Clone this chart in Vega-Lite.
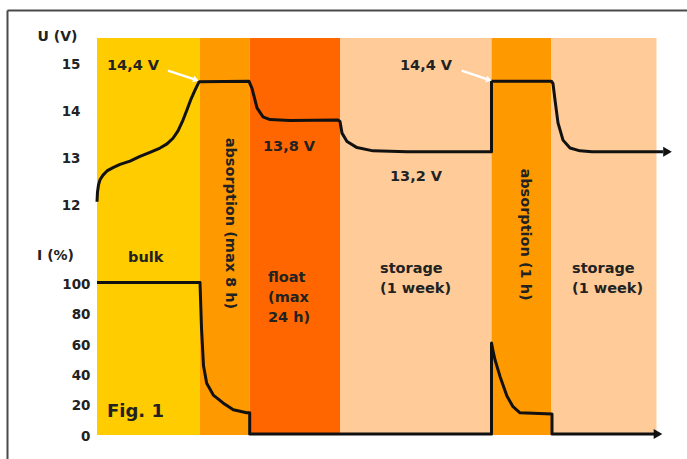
{
  "$schema": "https://vega.github.io/schema/vega-lite/v6.json",
  "width": 680,
  "height": 449,
  "autosize": "none",
  "padding": {"left": 7, "top": 10, "right": 0, "bottom": 0},
  "background": "white",
  "config": {"view": {"stroke": null}, "font": "DejaVu Sans"},
  "datasets": {
    "bands": [
      {"kind": "bulk", "t": 0, "t1": 102.5},
      {"kind": "absorption", "t": 102.5, "t1": 152.5},
      {"kind": "float", "t": 152.5, "t1": 243},
      {"kind": "storage", "t": 243, "t1": 394.5},
      {"kind": "absorption", "t": 394.5, "t1": 454},
      {"kind": "storage", "t": 454, "t1": 559.5}
    ],
    "voltage": [
      {"i": 1, "t": 0, "U": 12.07},
      {"i": 2, "t": 0.5, "U": 12.28},
      {"i": 3, "t": 1.5, "U": 12.43},
      {"i": 4, "t": 3, "U": 12.54},
      {"i": 5, "t": 6, "U": 12.64},
      {"i": 6, "t": 10, "U": 12.73},
      {"i": 7, "t": 16, "U": 12.8},
      {"i": 8, "t": 23, "U": 12.87},
      {"i": 9, "t": 33, "U": 12.94},
      {"i": 10, "t": 43, "U": 13.04},
      {"i": 11, "t": 53, "U": 13.13},
      {"i": 12, "t": 63, "U": 13.22},
      {"i": 13, "t": 70, "U": 13.31},
      {"i": 14, "t": 76, "U": 13.43},
      {"i": 15, "t": 81, "U": 13.59},
      {"i": 16, "t": 86, "U": 13.82},
      {"i": 17, "t": 90, "U": 14.04},
      {"i": 18, "t": 94, "U": 14.27},
      {"i": 19, "t": 98, "U": 14.46},
      {"i": 20, "t": 102, "U": 14.64},
      {"i": 21, "t": 152, "U": 14.65},
      {"i": 22, "t": 155, "U": 14.5},
      {"i": 23, "t": 160, "U": 14.08},
      {"i": 24, "t": 166, "U": 13.89},
      {"i": 25, "t": 173, "U": 13.83},
      {"i": 26, "t": 193, "U": 13.81},
      {"i": 27, "t": 241, "U": 13.82},
      {"i": 28, "t": 243, "U": 13.79},
      {"i": 29, "t": 245, "U": 13.54},
      {"i": 30, "t": 250, "U": 13.36},
      {"i": 31, "t": 260, "U": 13.23},
      {"i": 32, "t": 276, "U": 13.16},
      {"i": 33, "t": 310, "U": 13.14},
      {"i": 34, "t": 394.5, "U": 13.14},
      {"i": 35, "t": 394.5, "U": 14.65},
      {"i": 36, "t": 454.5, "U": 14.65},
      {"i": 37, "t": 456, "U": 14.6},
      {"i": 38, "t": 458, "U": 14.25},
      {"i": 39, "t": 461, "U": 13.76},
      {"i": 40, "t": 466, "U": 13.39},
      {"i": 41, "t": 473, "U": 13.22},
      {"i": 42, "t": 483, "U": 13.16},
      {"i": 43, "t": 495, "U": 13.14},
      {"i": 44, "t": 566, "U": 13.14}
    ],
    "vhead": [{"t": 570.5, "U": 13.14}],
    "vlabels": [
      {"label": "14,4 V", "t": 10, "U": 14.98},
      {"label": "14,4 V", "t": 303, "U": 14.98},
      {"label": "13,8  V", "t": 166, "U": 13.24},
      {"label": "13,2 V", "t": 293, "U": 12.6}
    ],
    "warrows": [
      {"t": 71, "U": 14.878, "t1": 99, "U1": 14.68},
      {"t": 364.7, "U": 14.878, "t1": 392, "U1": 14.68}
    ],
    "wheads": [
      {"t": 99, "U": 14.68},
      {"t": 392, "U": 14.68}
    ],
    "current": [
      {"i": 1, "t": 0, "I": 100},
      {"i": 2, "t": 103, "I": 100},
      {"i": 3, "t": 104.5, "I": 70},
      {"i": 4, "t": 106.5, "I": 45},
      {"i": 5, "t": 109.7, "I": 33.5},
      {"i": 6, "t": 116.3, "I": 25.7},
      {"i": 7, "t": 126, "I": 20.5},
      {"i": 8, "t": 136.3, "I": 16},
      {"i": 9, "t": 149.7, "I": 14},
      {"i": 10, "t": 152.7, "I": 14},
      {"i": 11, "t": 152.7, "I": 0},
      {"i": 12, "t": 394.5, "I": 0},
      {"i": 13, "t": 394.5, "I": 60},
      {"i": 14, "t": 396, "I": 55},
      {"i": 15, "t": 398, "I": 49},
      {"i": 16, "t": 403, "I": 38},
      {"i": 17, "t": 410, "I": 25},
      {"i": 18, "t": 416, "I": 18},
      {"i": 19, "t": 423, "I": 14},
      {"i": 20, "t": 455, "I": 13.2},
      {"i": 21, "t": 455, "I": 0},
      {"i": 22, "t": 558, "I": 0}
    ],
    "ihead": [{"t": 561, "I": 0}],
    "ilabels": [
      {"label": "bulk", "t": 31, "I": 116.2},
      {"label": "float\n(max\n24 h)", "t": 171, "I": 103},
      {"label": "storage\n(1 week)", "t": 283, "I": 109.2},
      {"label": "storage\n(1 week)", "t": 475, "I": 109.2}
    ],
    "rotlabels": [
      {"label": "absorption (max 8 h)", "t": 133, "I": 139},
      {"label": "absorption (1 h)", "t": 427.5, "I": 131.7}
    ],
    "fig": [{"label": "Fig. 1", "t": 10, "I": 14.5}]
  },
  "encoding": {
    "x": {"field": "t", "type": "quantitative", "scale": {"domain": [-90, 590], "nice": false, "zero": false},
      "axis": {"orient": "top", "domain": true, "domainColor": "#4a4a4a", "domainWidth": 2, "ticks": false, "labels": false, "grid": true, "values": [-90], "gridColor": "#4a4a4a", "gridWidth": 2, "gridOpacity": 1, "title": null}}
  },
  "layer": [
    {
      "data": {"name": "bands"},
      "mark": {"type": "rect"},
      "encoding": {
        "x2": {"field": "t1"},
        "y": {"datum": 15.579, "type": "quantitative", "scale": {"domain": [6.558, 16.178], "nice": false, "zero": false},
          "axis": {"orient": "left", "offset": 0, "domain": false, "ticks": false, "labels": false, "grid": false, "title": null}},
        "y2": {"datum": 7.072},
        "color": {"field": "kind", "type": "nominal", "scale": {"domain": ["bulk", "absorption", "float", "storage"], "range": ["#FFCC00", "#FF9900", "#FF6600", "#FFCC99"]}, "legend": null}
      }
    },
    {
      "encoding": {
        "y": {"field": "U", "type": "quantitative", "scale": {"domain": [6.558, 16.178], "nice": false, "zero": false},
          "axis": {"orient": "left", "offset": -90, "domain": false, "ticks": false, "tickSize": 0, "grid": false, "values": [12, 13, 14, 15], "labelPadding": 17, "labelFont": "DejaVu Sans", "labelFontWeight": "bold", "labelFontSize": 13.5, "labelColor": "#222", "title": "U (V)", "titleAngle": 0, "titleX": -40, "titleY": 26, "titleAlign": "center", "titleBaseline": "middle", "titleFont": "DejaVu Sans", "titleFontWeight": "bold", "titleFontSize": 14, "titleColor": "#222"}}
      },
      "layer": [
        {
          "data": {"name": "vlabels"},
          "mark": {"type": "text", "align": "left", "baseline": "middle", "font": "DejaVu Sans", "fontWeight": "bold", "fontSize": 14.5, "color": "#222"},
          "encoding": {"text": {"field": "label"}}
        },
        {
          "data": {"name": "voltage"},
          "mark": {"type": "line", "color": "#111", "strokeWidth": 3, "strokeJoin": "round"},
          "encoding": {"order": {"field": "i", "type": "quantitative"}}
        },
        {
          "data": {"name": "vhead"},
          "mark": {"type": "point", "shape": "triangle-right", "filled": true, "color": "#111", "size": 100, "opacity": 1}
        },
        {
          "data": {"name": "warrows"},
          "mark": {"type": "rule", "color": "white", "strokeWidth": 2.5},
          "encoding": {"x2": {"field": "t1"}, "y2": {"field": "U1"}}
        },
        {
          "data": {"name": "wheads"},
          "mark": {"type": "point", "shape": "triangle-right", "filled": true, "color": "white", "size": 45, "angle": 18, "opacity": 1}
        }
      ]
    },
    {
      "encoding": {
        "y": {"field": "I", "type": "quantitative", "scale": {"domain": [-16.5, 279.9], "nice": false, "zero": false},
          "axis": {"orient": "left", "offset": -90, "domain": false, "ticks": false, "tickSize": 0, "grid": false, "values": [0, 20, 40, 60, 80, 100], "labelPadding": 7, "labelOffset": 2, "labelFont": "DejaVu Sans", "labelFontWeight": "bold", "labelFontSize": 13.5, "labelColor": "#222", "title": "I (%)", "titleAngle": 0, "titleX": -42, "titleY": 245, "titleAlign": "center", "titleBaseline": "middle", "titleFont": "DejaVu Sans", "titleFontWeight": "bold", "titleFontSize": 14, "titleColor": "#222"}}
      },
      "layer": [
        {
          "data": {"name": "ilabels"},
          "mark": {"type": "text", "align": "left", "baseline": "middle", "lineBreak": "\n", "lineHeight": 20, "font": "DejaVu Sans", "fontWeight": "bold", "fontSize": 14.5, "color": "#222"},
          "encoding": {"text": {"field": "label"}}
        },
        {
          "data": {"name": "rotlabels"},
          "mark": {"type": "text", "align": "center", "baseline": "middle", "angle": 90, "font": "DejaVu Sans", "fontWeight": "bold", "fontSize": 14.5, "color": "#222"},
          "encoding": {"text": {"field": "label"}}
        },
        {
          "data": {"name": "fig"},
          "mark": {"type": "text", "align": "left", "baseline": "middle", "font": "DejaVu Sans", "fontWeight": "bold", "fontSize": 18, "color": "#222"},
          "encoding": {"text": {"field": "label"}}
        },
        {
          "data": {"name": "current"},
          "mark": {"type": "line", "color": "#111", "strokeWidth": 3, "strokeJoin": "round"},
          "encoding": {"order": {"field": "i", "type": "quantitative"}}
        },
        {
          "data": {"name": "ihead"},
          "mark": {"type": "point", "shape": "triangle-right", "filled": true, "color": "#111", "size": 100, "opacity": 1}
        }
      ]
    }
  ],
  "resolve": {"scale": {"y": "independent"}, "axis": {"y": "independent"}}
}
